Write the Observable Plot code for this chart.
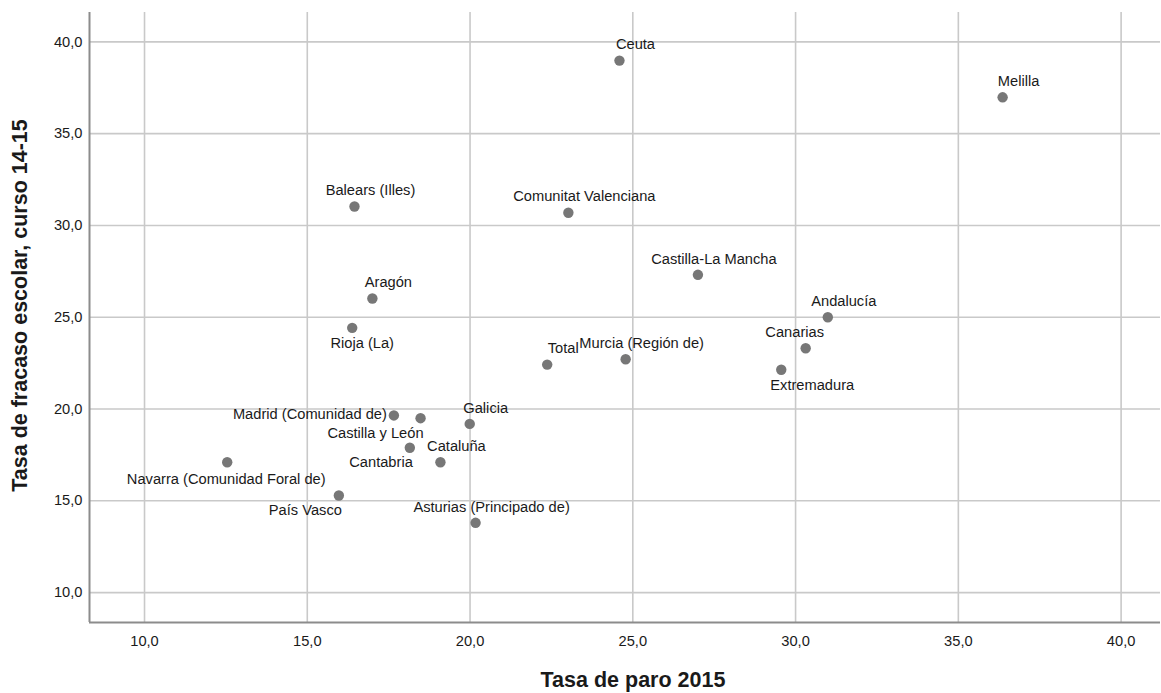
<!DOCTYPE html>
<html>
<head>
<meta charset="utf-8">
<script src="https://cdn.jsdelivr.net/npm/d3@7"></script>
<script src="https://cdn.jsdelivr.net/npm/@observablehq/plot@0.6"></script>
<style>
  html, body { margin: 0; padding: 0; background: #fff; }
  #chart svg { display: block; }
</style>
</head>
<body>
<div id="chart"></div>
<script>
// Data
const regions = ["Andalucía", "Aragón", "Asturias (Principado de)", "Balears (Illes)", "Canarias",
  "Cantabria", "Castilla y León", "Castilla-La Mancha", "Cataluña", "Comunitat Valenciana",
  "Extremadura", "Galicia", "Madrid (Comunidad de)", "Murcia (Región de)",
  "Navarra (Comunidad Foral de)", "País Vasco", "Rioja (La)", "Ceuta", "Melilla", "Total"];
const paro2015 = [30.99, 17.0, 20.17, 16.45, 30.31, 18.15, 18.48, 27.0, 19.09, 23.02,
  29.56, 19.99, 17.66, 24.78, 12.54, 15.97, 16.38, 24.59, 36.36, 22.37];
const fracaso1415 = [25.0, 26.02, 13.8, 31.03, 23.31, 17.89, 19.5, 27.31, 17.1, 30.69,
  22.14, 19.19, 19.65, 22.71, 17.1, 15.29, 24.42, 38.98, 36.98, 22.42];
// Label placement category for each point
const labelSide = ["above", "above", "above", "above", "above-left",
  "below-left", "below-left", "above", "above", "above",
  "below-right", "above", "left", "above",
  "below", "below-left", "below-slight-right", "above", "above", "above"];
const xTicks = [10, 15, 20, 25, 30, 35, 40];
const yTicks = [10, 15, 20, 25, 30, 35, 40];
const xTitle = "Tasa de paro 2015";
const yTitle = "Tasa de fracaso escolar, curso 14-15";

const rows = regions.map((r, i) => ({region: r, x: paro2015[i], y: fracaso1415[i], side: labelSide[i]}));

const fmt = d => d.toFixed(1).replace(".", ",");
const FONT = "'Liberation Sans', Arial, sans-serif";
const xDomain = [8.31, 41.21];
const yDomain = [8.37, 41.6];

const placements = {
  "above": {textAnchor: "middle", dx: 16, dy: -16},
  "above-left": {textAnchor: "middle", dx: -11, dy: -16},
  "left": {textAnchor: "end", dx: -7, dy: -1},
  "below-left": {textAnchor: "end", dx: 3, dy: 15},
  "below": {textAnchor: "middle", dx: -1, dy: 17},
  "below-slight-right": {textAnchor: "middle", dx: 10, dy: 15},
  "below-right": {textAnchor: "middle", dx: 31, dy: 16}
};

const labelMarks = Object.entries(placements).map(([side, p]) =>
  Plot.text(rows.filter(d => d.side === side), {
    x: "x", y: "y", text: "region",
    textAnchor: p.textAnchor, lineAnchor: "middle", dx: p.dx, dy: p.dy,
    fontSize: 14.67, fill: "#1a1a1a", fontFamily: FONT
  })
);

const chart = Plot.plot({
  width: 1161,
  height: 693,
  marginLeft: 89,
  marginRight: 1,
  marginTop: 12,
  marginBottom: 71,
  style: {fontFamily: FONT, background: "#fff"},
  x: {domain: xDomain, ticks: xTicks, tickFormat: fmt},
  y: {domain: yDomain, ticks: yTicks, tickFormat: fmt},
  marks: [
    Plot.gridX(xTicks, {stroke: "#c9c9c9", strokeOpacity: 1, strokeWidth: 1.6}),
    Plot.gridY(yTicks, {stroke: "#c9c9c9", strokeOpacity: 1, strokeWidth: 1.6}),
    Plot.axisX(xTicks, {tickSize: 0, tickPadding: 13, tickFormat: fmt, fontSize: 14.67, fill: "#1a1a1a", label: null}),
    Plot.axisY(yTicks, {tickSize: 0, tickPadding: 7, tickFormat: fmt, fontSize: 14.67, fill: "#1a1a1a", label: null}),
    Plot.ruleX([xDomain[0]], {stroke: "#8c8c8c", strokeWidth: 2}),
    Plot.ruleY([yDomain[0]], {stroke: "#8c8c8c", strokeWidth: 2}),
    Plot.dot(rows, {x: "x", y: "y", r: 5.2, fill: "#777777", stroke: "none"}),
    ...labelMarks,
    Plot.text([xTitle], {frameAnchor: "bottom", textAnchor: "middle", lineAnchor: "middle", dx: 8, dy: 58, text: d => d,
      fontSize: 21.5, fontWeight: "bold", fill: "#1a1a1a", fontFamily: FONT}),
    Plot.text([yTitle], {frameAnchor: "left", textAnchor: "middle", lineAnchor: "middle", rotate: -90, dx: -69, dy: -12, text: d => d,
      fontSize: 21.5, fontWeight: "bold", fill: "#1a1a1a", fontFamily: FONT})
  ]
});

document.getElementById("chart").appendChild(chart);
</script>
</body>
</html>
